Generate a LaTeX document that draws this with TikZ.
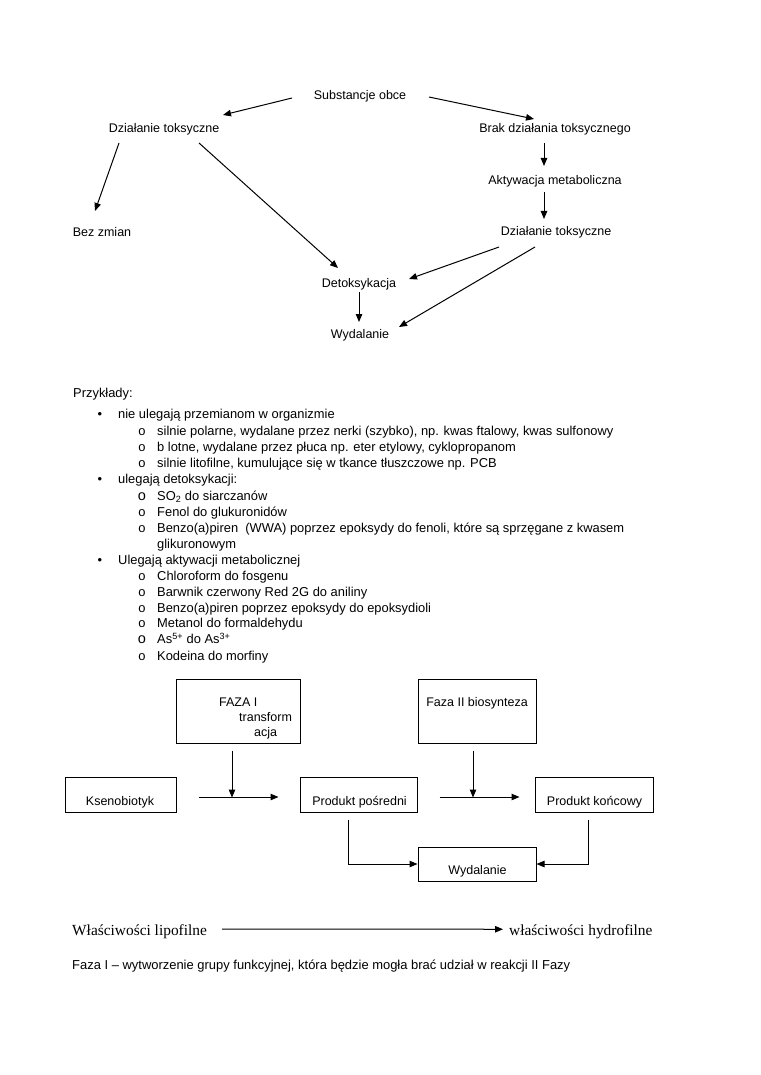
\documentclass[tikz,border=0pt]{standalone}
\usepackage{fontspec}
\setmainfont{Liberation Sans}
\newfontfamily\serifx{Liberation Serif}
\usetikzlibrary{arrows.meta}
\tikzset{
  every node/.style={font=\fontsize{12.5}{15}\selectfont, inner sep=0pt},
  arr/.style={line width=1pt, -{Triangle[length=8pt,width=6.5pt]}},
  box/.style={draw, line width=1pt},
  li/.style={anchor=base west, font=\fontsize{12.9}{15}\selectfont},
  mk/.style={anchor=base, font=\fontsize{12.9}{15}\selectfont},
  bigmk/.style={anchor=base, font=\fontsize{14.5}{15}\selectfont},
}
\begin{document}
\begin{tikzpicture}[x=1pt,y=-1pt]
\useasboundingbox (0,0) rectangle (760,1075);
% ---------- top diagram ----------
\node (sub)  at (360,96)  {Substancje obce};
\node (dt1)  at (164,129) {Działanie toksyczne};
\node (brak) at (555,129) {Brak działania toksycznego};
\node (akt)  at (555,181) {Aktywacja metaboliczna};
\node (bez)  at (102,232) {Bez zmian};
\node (dt2)  at (556,232) {Działanie toksyczne};
\node (det)  at (359,284) {Detoksykacja};
\node (wyd)  at (360,335) {Wydalanie};

\draw[arr] ([shift={(-68,2)}]sub.center) -- ([shift={(59,-14)}]dt1.center);
\draw[arr] ([shift={(69,1)}]sub.center) -- ([shift={(-21,-10)}]brak.center);
\draw[arr] ([shift={(-11,14)}]brak.center) -- ([shift={(-11,-15)}]akt.center);
\draw[arr] ([shift={(-11,11)}]akt.center) -- ([shift={(-12,-13)}]dt2.center);
\draw[arr] ([shift={(-45,14)}]dt1.center) -- ([shift={(-7,-21)}]bez.center);
\draw[arr] ([shift={(35,14)}]dt1.center) -- ([shift={(-21,-16)}]det.center);
\draw[arr] ([shift={(-57,15)}]dt2.center) -- ([shift={(50,-5)}]det.center);
\draw[arr] ([shift={(-21,15)}]dt2.center) -- ([shift={(39,-8)}]wyd.center);
\draw[arr] ([shift={(0,8)}]det.center) -- ([shift={(-1,-13)}]wyd.center);

% ---------- list ----------
\node[li] (prz) at (73,397.5) {Przykłady:};
\node[mk] (b1) at (100,418) {•};
\node[li] (t1) at (118,418) {nie ulegają przemianom w organizmie};
\node[mk] (o1) at (142,435) {o};
\node[li] (t2) at (157,435) {silnie polarne, wydalane przez nerki (szybko), np. kwas ftalowy, kwas sulfonowy};
\node[mk] (o2) at (142,451.5) {o};
\node[li] (t3) at (157,451.5) {b lotne, wydalane przez płuca np. eter etylowy, cyklopropanom};
\node[mk] (o3) at (142,467.5) {o};
\node[li] (t4) at (157,467.5) {silnie litofilne, kumulujące się w tkance tłuszczowe np. PCB};
\node[mk] (b2) at (100,483.5) {•};
\node[li] (t5) at (118,483.5) {ulegają detoksykacji:};
\node[bigmk] (o4) at (142,500) {o};
\node[li] (t6) at (157,500) {SO\textsubscript{2} do siarczanów};
\node[mk] (o5) at (142,516) {o};
\node[li] (t7) at (157,516) {Fenol do glukuronidów};
\node[mk] (o6) at (142,532) {o};
\node[li] (t8) at (157,532) {Benzo(a)piren~ (WWA) poprzez epoksydy do fenoli, które są sprzęgane z kwasem};
\node[li] (t9) at (157,548.5) {glikuronowym};
\node[mk] (b3) at (100,564.5) {•};
\node[li] (t10) at (118,564.5) {Ulegają aktywacji metabolicznej};
\node[mk] (o7) at (142,580.5) {o};
\node[li] (t11) at (157,580.5) {Chloroform do fosgenu};
\node[mk] (o8) at (142,596.5) {o};
\node[li] (t12) at (157,596.5) {Barwnik czerwony Red 2G do aniliny};
\node[mk] (o9) at (142,612) {o};
\node[li] (t13) at (157,612) {Benzo(a)piren poprzez epoksydy do epoksydioli};
\node[mk] (o10) at (142,627.5) {o};
\node[li] (t14) at (157,627.5) {Metanol do formaldehydu};
\node[bigmk] (o11) at (142,643.5) {o};
\node[li] (t15) at (157,643.5) {As\textsuperscript{5+} do As\textsuperscript{3+}};
\node[mk] (o12) at (142,660) {o};
\node[li] (t16) at (157,660) {Kodeina do morfiny};

% ---------- bottom flow ----------
\node[box, minimum width=111pt, minimum height=35pt] (kseno) at (120.5,794.5) {};
\node[box, minimum width=124pt, minimum height=64pt] (faza1) at (238,711) {};
\node[box, minimum width=118pt, minimum height=64pt] (faza2) at (477,711) {};
\node[box, minimum width=117pt, minimum height=35pt] (prodp) at (358.5,794.5) {};
\node[box, minimum width=118pt, minimum height=35pt] (prodk) at (594,794.5) {};
\node[box, minimum width=118pt, minimum height=34pt] (wydb) at (477,864) {};

\node[anchor=base] (tk) at (120,805.5) {Ksenobiotyk};
\node[anchor=base west] (tf1) at (219,706.5) {FAZA I};
\node[anchor=base west] (tf2) at (239,721.5) {transform};
\node[anchor=base west] (tf3) at (254,736.5) {acja};
\node[anchor=base] (tf4) at (477,706.5) {Faza II biosynteza};
\node[anchor=base] (tp) at (359.5,805.5) {Produkt pośredni};
\node[anchor=base] (tkn) at (594.5,805.5) {Produkt końcowy};
\node[anchor=base] (tw) at (477.5,874.5) {Wydalanie};

\draw[arr] ([shift={(22,2.5)}]kseno.east) -- ([shift={(-21,2.5)}]prodp.west);
\draw[arr] ([shift={(-6,7)}]faza1.south) -- ([shift={(-6,54)}]faza1.south);
\draw[arr] ([shift={(22,2.5)}]prodp.east) -- ([shift={(-15,2.5)}]prodk.west);
\draw[arr] ([shift={(-4,7)}]faza2.south) -- ([shift={(-4,54)}]faza2.south);
\draw[arr] ([shift={(-10.5,7)}]prodp.south) |- (wydb.west);
\draw[arr] ([shift={(-6,7)}]prodk.south) |- (wydb.east);

% ---------- bottom text ----------
\node[anchor=base west, font=\serifx\fontsize{15.4}{18}\selectfont] (lip) at (72,935) {Właściwości lipofilne};
\node[anchor=base west, font=\serifx\fontsize{15.4}{18}\selectfont] (hyd) at (509,935) {właściwości hydrofilne};
\draw[arr] ([shift={(15,-2)}]lip.east) -- ([shift={(-6,-2)}]hyd.west);
\node[anchor=base west, font=\fontsize{12.95}{16}\selectfont] (faz) at (72,969.5) {Faza I – wytworzenie grupy funkcyjnej, która będzie mogła brać udział w reakcji II Fazy};
\end{tikzpicture}
\end{document}
